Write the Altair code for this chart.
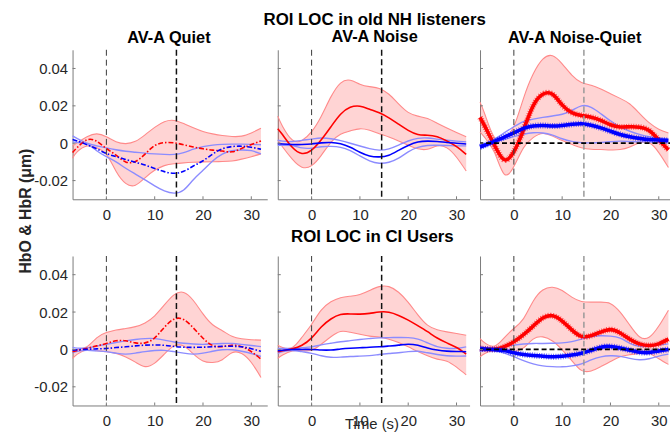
import altair as alt
import pandas as pd

# ---------------- data ----------------
T = [-7, -6, -4, -2, 0, 2, 4, 6, 8, 10, 12, 14, 16, 18, 20, 22, 24, 26, 28, 30, 32]

# old NH listeners, AV-A Quiet
NHQ_HBO = [-0.0050, -0.0022, 0.0018, 0.0010, -0.0028, -0.0064, -0.0100, -0.0098, -0.0058, -0.0013, 0.0003, 0.0002, -0.0008, -0.0020, -0.0030, -0.0037, -0.0042, -0.0046, -0.0028, -0.0007, 0.0012]
NHQ_HBO_HI = [-0.0015, 0.0003, 0.0035, 0.0050, 0.0035, 0.0008, -0.0002, 0.0010, 0.0045, 0.0085, 0.0115, 0.0122, 0.0105, 0.0083, 0.0063, 0.0050, 0.0041, 0.0036, 0.0038, 0.0055, 0.0080]
NHQ_HBO_LO = [-0.0080, -0.0045, -0.0015, -0.0025, -0.0060, -0.0150, -0.0215, -0.0225, -0.0185, -0.0145, -0.0120, -0.0110, -0.0105, -0.0102, -0.0100, -0.0099, -0.0098, -0.0095, -0.0085, -0.0072, -0.0057]
NHQ_HBR = [0.0020, 0.0012, -0.0008, -0.0030, -0.0055, -0.0072, -0.0087, -0.0102, -0.0117, -0.0135, -0.0152, -0.0161, -0.0150, -0.0122, -0.0094, -0.0058, -0.0030, -0.0018, -0.0016, -0.0022, -0.0032]
NHQ_HBR_HI = [0.0039, 0.0025, 0.0000, -0.0014, -0.0025, -0.0035, -0.0043, -0.0048, -0.0053, -0.0057, -0.0060, -0.0060, -0.0050, -0.0032, -0.0018, -0.0010, -0.0006, -0.0005, -0.0005, -0.0006, -0.0008]
NHQ_HBR_LO = [0.0007, 0.0004, -0.0005, -0.0040, -0.0072, -0.0100, -0.0134, -0.0165, -0.0196, -0.0228, -0.0255, -0.0267, -0.0250, -0.0195, -0.0145, -0.0095, -0.0058, -0.0040, -0.0036, -0.0040, -0.0057]

# old NH listeners, AV-A Noise
NHN_HBO = [0.0078, 0.0045, -0.0022, -0.0055, -0.0037, 0.0018, 0.0088, 0.0155, 0.0192, 0.0198, 0.0182, 0.0163, 0.0136, 0.0102, 0.0069, 0.0047, 0.0043, 0.0034, 0.0012, -0.0018, -0.0060]
NHN_HBO_HI = [0.0145, 0.0090, 0.0018, 0.0015, 0.0062, 0.0145, 0.0248, 0.0322, 0.0337, 0.0316, 0.0303, 0.0293, 0.0262, 0.0210, 0.0165, 0.0145, 0.0132, 0.0107, 0.0082, 0.0058, 0.0034]
NHN_HBO_LO = [0.0016, -0.0020, -0.0085, -0.0128, -0.0120, -0.0065, 0.0005, 0.0048, 0.0066, 0.0077, 0.0069, 0.0051, 0.0033, 0.0012, -0.0011, -0.0030, -0.0032, -0.0015, -0.0025, -0.0075, -0.0149]
NHN_HBR = [-0.0002, -0.0004, -0.0007, -0.0007, -0.0004, 0.0002, 0.0004, -0.0003, -0.0022, -0.0048, -0.0068, -0.0073, -0.0064, -0.0038, -0.0012, 0.0006, 0.0011, 0.0009, 0.0004, 0.0000, -0.0004]
NHN_HBR_HI = [0.0016, 0.0011, 0.0009, 0.0015, 0.0022, 0.0028, 0.0024, 0.0014, 0.0000, -0.0015, -0.0029, -0.0037, -0.0030, -0.0010, 0.0012, 0.0026, 0.0028, 0.0022, 0.0016, 0.0011, 0.0007]
NHN_HBR_LO = [-0.0011, -0.0011, -0.0013, -0.0025, -0.0026, -0.0019, -0.0017, -0.0022, -0.0040, -0.0068, -0.0094, -0.0107, -0.0102, -0.0080, -0.0046, -0.0022, -0.0012, -0.0011, -0.0012, -0.0014, -0.0014]

# old NH listeners, AV-A Noise-Quiet
NHD_HBO = [0.0138, 0.0090, -0.0012, -0.0088, -0.0045, 0.0072, 0.0200, 0.0262, 0.0262, 0.0205, 0.0164, 0.0149, 0.0139, 0.0122, 0.0099, 0.0087, 0.0088, 0.0086, 0.0068, 0.0018, -0.0035]
NHD_HBO_HI = [0.0220, 0.0155, 0.0030, 0.0025, 0.0090, 0.0240, 0.0370, 0.0450, 0.0468, 0.0425, 0.0365, 0.0325, 0.0310, 0.0290, 0.0265, 0.0240, 0.0210, 0.0160, 0.0110, 0.0075, 0.0055]
NHD_HBO_LO = [0.0060, 0.0030, -0.0050, -0.0165, -0.0125, -0.0025, 0.0030, 0.0052, 0.0038, 0.0014, -0.0006, -0.0024, -0.0032, -0.0034, -0.0036, -0.0034, -0.0020, 0.0002, 0.0002, -0.0050, -0.0130]
NHD_HBR = [-0.0020, -0.0011, 0.0010, 0.0033, 0.0055, 0.0079, 0.0092, 0.0095, 0.0092, 0.0095, 0.0101, 0.0104, 0.0096, 0.0082, 0.0064, 0.0047, 0.0035, 0.0026, 0.0020, 0.0017, 0.0015]
NHD_HBR_HI = [-0.0011, -0.0004, 0.0022, 0.0055, 0.0088, 0.0116, 0.0129, 0.0138, 0.0146, 0.0155, 0.0175, 0.0200, 0.0192, 0.0158, 0.0120, 0.0087, 0.0064, 0.0047, 0.0035, 0.0027, 0.0023]
NHD_HBR_LO = [-0.0020, -0.0012, 0.0007, 0.0020, 0.0035, 0.0048, 0.0056, 0.0055, 0.0043, 0.0024, 0.0010, 0.0003, 0.0002, 0.0004, 0.0008, 0.0011, 0.0009, 0.0007, 0.0007, 0.0004, 0.0002]

# CI users, AV-A Quiet
CIQ_HBO = [-0.0012, -0.0006, 0.0006, 0.0019, 0.0032, 0.0046, 0.0046, 0.0035, 0.0035, 0.0062, 0.0118, 0.0162, 0.0160, 0.0115, 0.0060, 0.0021, 0.0015, 0.0022, 0.0015, -0.0012, -0.0052]
CIQ_HBO_HI = [-0.0005, 0.0000, 0.0015, 0.0062, 0.0090, 0.0104, 0.0112, 0.0122, 0.0142, 0.0180, 0.0238, 0.0292, 0.0305, 0.0262, 0.0190, 0.0132, 0.0100, 0.0070, 0.0057, 0.0052, 0.0050]
CIQ_HBO_LO = [-0.0048, -0.0025, -0.0002, -0.0007, -0.0012, -0.0021, -0.0040, -0.0068, -0.0092, -0.0073, -0.0025, 0.0018, 0.0018, -0.0024, -0.0062, -0.0070, -0.0055, -0.0018, -0.0022, -0.0070, -0.0150]
CIQ_HBR = [-0.0004, -0.0002, 0.0001, 0.0003, 0.0005, 0.0010, 0.0014, 0.0019, 0.0023, 0.0024, 0.0022, 0.0016, 0.0012, 0.0011, 0.0012, 0.0014, 0.0017, 0.0017, 0.0014, 0.0004, -0.0010]
CIQ_HBR_HI = [0.0011, 0.0007, 0.0008, 0.0018, 0.0028, 0.0037, 0.0046, 0.0053, 0.0058, 0.0058, 0.0050, 0.0040, 0.0033, 0.0029, 0.0027, 0.0030, 0.0032, 0.0032, 0.0027, 0.0021, 0.0015]
CIQ_HBR_LO = [-0.0018, -0.0010, -0.0005, -0.0008, -0.0012, -0.0020, -0.0025, -0.0020, -0.0012, -0.0006, -0.0005, -0.0012, -0.0020, -0.0025, -0.0020, -0.0010, -0.0002, -0.0002, -0.0010, -0.0022, -0.0037]

# CI users, AV-A Noise
CIN_HBO = [-0.0012, -0.0007, 0.0003, 0.0022, 0.0062, 0.0120, 0.0163, 0.0187, 0.0190, 0.0189, 0.0193, 0.0200, 0.0199, 0.0182, 0.0157, 0.0127, 0.0095, 0.0061, 0.0035, 0.0010, -0.0025]
CIN_HBO_HI = [0.0023, 0.0010, 0.0010, 0.0065, 0.0135, 0.0210, 0.0255, 0.0277, 0.0285, 0.0294, 0.0315, 0.0336, 0.0336, 0.0306, 0.0252, 0.0185, 0.0130, 0.0105, 0.0094, 0.0085, 0.0076]
CIN_HBO_LO = [-0.0048, -0.0030, -0.0008, -0.0007, -0.0004, 0.0028, 0.0068, 0.0096, 0.0092, 0.0081, 0.0071, 0.0066, 0.0055, 0.0037, 0.0014, -0.0011, -0.0034, -0.0052, -0.0063, -0.0095, -0.0136]
CIN_HBR = [-0.0007, -0.0004, 0.0000, 0.0000, 0.0000, -0.0003, -0.0003, 0.0002, 0.0006, 0.0009, 0.0012, 0.0014, 0.0018, 0.0023, 0.0028, 0.0022, 0.0008, -0.0003, -0.0009, -0.0011, -0.0012]
CIN_HBR_HI = [0.0005, 0.0005, 0.0005, 0.0009, 0.0014, 0.0024, 0.0033, 0.0041, 0.0047, 0.0053, 0.0058, 0.0062, 0.0063, 0.0064, 0.0063, 0.0055, 0.0035, 0.0015, 0.0006, 0.0006, 0.0014]
CIN_HBR_LO = [-0.0021, -0.0012, -0.0006, -0.0012, -0.0021, -0.0034, -0.0042, -0.0041, -0.0038, -0.0036, -0.0033, -0.0027, -0.0022, -0.0018, -0.0012, -0.0010, -0.0018, -0.0027, -0.0034, -0.0036, -0.0035]

# CI users, AV-A Noise-Quiet
CID_HBO = [0.0005, 0.0002, 0.0001, 0.0015, 0.0041, 0.0079, 0.0125, 0.0168, 0.0180, 0.0152, 0.0105, 0.0070, 0.0074, 0.0093, 0.0106, 0.0088, 0.0055, 0.0030, 0.0021, 0.0030, 0.0055]
CID_HBO_HI = [0.0058, 0.0035, 0.0018, 0.0062, 0.0112, 0.0165, 0.0258, 0.0318, 0.0333, 0.0315, 0.0280, 0.0257, 0.0253, 0.0253, 0.0245, 0.0200, 0.0130, 0.0068, 0.0065, 0.0125, 0.0210]
CID_HBO_LO = [-0.0039, -0.0022, -0.0002, -0.0008, -0.0012, 0.0008, 0.0055, 0.0067, 0.0045, -0.0002, -0.0060, -0.0112, -0.0115, -0.0092, -0.0065, -0.0039, -0.0028, -0.0021, -0.0022, -0.0050, -0.0080]
CID_HBR = [0.0005, 0.0002, -0.0001, -0.0006, -0.0018, -0.0027, -0.0032, -0.0036, -0.0039, -0.0037, -0.0030, -0.0020, -0.0005, 0.0012, 0.0016, 0.0008, -0.0004, -0.0015, -0.0016, -0.0008, 0.0000]
CID_HBR_HI = [0.0014, 0.0009, 0.0007, 0.0015, 0.0023, 0.0029, 0.0032, 0.0032, 0.0033, 0.0035, 0.0042, 0.0055, 0.0067, 0.0073, 0.0071, 0.0060, 0.0033, 0.0017, 0.0016, 0.0023, 0.0030]
CID_HBR_LO = [-0.0012, -0.0007, -0.0008, -0.0020, -0.0039, -0.0060, -0.0077, -0.0088, -0.0092, -0.0093, -0.0088, -0.0077, -0.0056, -0.0040, -0.0034, -0.0037, -0.0048, -0.0055, -0.0050, -0.0036, -0.0025]

X_TICKS = [0, 10, 20, 30]
Y_TICKS = [-0.02, 0, 0.02, 0.04]
EVENT_LINES = [0, 14.5]
ZERO_LINE = [0]
ROW_TITLES = ["ROI LOC in old NH listeners", "ROI LOC in CI Users"]
COL_TITLES = ["AV-A Quiet", "AV-A Noise", "AV-A Noise-Quiet"]
X_TITLE = "Time (s)"
Y_TITLE = "HbO & HbR (\u03bcm)"

PANELS = [
    [(NHQ_HBO, NHQ_HBO_HI, NHQ_HBO_LO, NHQ_HBR, NHQ_HBR_HI, NHQ_HBR_LO),
     (NHN_HBO, NHN_HBO_HI, NHN_HBO_LO, NHN_HBR, NHN_HBR_HI, NHN_HBR_LO),
     (NHD_HBO, NHD_HBO_HI, NHD_HBO_LO, NHD_HBR, NHD_HBR_HI, NHD_HBR_LO)],
    [(CIQ_HBO, CIQ_HBO_HI, CIQ_HBO_LO, CIQ_HBR, CIQ_HBR_HI, CIQ_HBR_LO),
     (CIN_HBO, CIN_HBO_HI, CIN_HBO_LO, CIN_HBR, CIN_HBR_HI, CIN_HBR_LO),
     (CID_HBO, CID_HBO_HI, CID_HBO_LO, CID_HBR, CID_HBR_HI, CID_HBR_LO)],
]

# ---------------- styling ----------------
FONT = "Liberation Sans"
PX_PER_S = 4.88
X_DOMAINS = [[-7, 33.3], [-7, 32.7], [-7, 33.0]]
H = 151
YDOM = [-0.03, 0.05]
AX_COLOR = "#7a7a7a"
TXT = "#262626"
RED, BLUE = "#ff0000", "#0000ff"
Y_LABEL_EXPR = "datum.value == 0 ? '0' : (datum.value < 0 ? '-' : '') + format(abs(datum.value), '.2f')"


def panel(row, col):
    hbo, hbo_hi, hbo_lo, hbr, hbr_hi, hbr_lo = PANELS[row][col]
    df = pd.DataFrame({"t": T, "hbo": hbo, "hbo_hi": hbo_hi, "hbo_lo": hbo_lo,
                       "hbr": hbr, "hbr_hi": hbr_hi, "hbr_lo": hbr_lo})
    xdom = X_DOMAINS[col]
    width = (xdom[1] - xdom[0]) * PX_PER_S
    xs = alt.Scale(domain=xdom, nice=False, zero=False)
    ys = alt.Scale(domain=YDOM, nice=False, zero=False)

    xaxis_kw = dict(values=X_TICKS, ticks=False, tickSize=0, labelPadding=8, labelFontSize=15,
                    labelFont=FONT, labelColor=TXT, domainColor=AX_COLOR, domainWidth=1,
                    grid=False, labelFlush=False)
    if row == 1 and col == 1:
        xaxis = alt.Axis(title=X_TITLE, titleFont=FONT, titleFontSize=15, titleFontWeight="normal",
                         titleColor=TXT, titleX=94.7, titleY=23.4, titleBaseline="alphabetic",
                         titleAlign="center", **xaxis_kw)
    else:
        xaxis = alt.Axis(title=None, **xaxis_kw)

    yaxis_kw = dict(values=Y_TICKS, ticks=False, tickSize=0, labelPadding=5, labelFontSize=15,
                    labelFont=FONT, labelColor=TXT, domainColor=AX_COLOR, domainWidth=1,
                    grid=False, labels=(col == 0), labelExpr=Y_LABEL_EXPR)
    if row == 0 and col == 0:
        yaxis = alt.Axis(title=Y_TITLE, titleFont=FONT, titleFontSize=16, titleFontWeight="bold",
                         titleColor=TXT, titleAngle=270, titleX=-42.6, titleY=162.5,
                         titleBaseline="alphabetic", titleAlign="center", **yaxis_kw)
    else:
        yaxis = alt.Axis(title=None, **yaxis_kw)

    def X(f):
        return alt.X(f + ":Q", scale=xs, axis=xaxis)

    def Y(f):
        return alt.Y(f + ":Q", scale=ys, axis=yaxis)

    base = alt.Chart(df)
    interp = "natural"
    layers = []
    layers.append(base.mark_area(color=RED, opacity=0.17, interpolate=interp).encode(
        x=X("t"), y=Y("hbo_lo"), y2="hbo_hi:Q"))
    for f in ["hbo_hi", "hbo_lo"]:
        layers.append(base.mark_line(color="#ff8a8a", strokeWidth=1.1, interpolate=interp).encode(
            x=X("t"), y=Y(f)))
    for f in ["hbr_hi", "hbr_lo"]:
        layers.append(base.mark_line(color="#8c8cff", strokeWidth=1.4, interpolate=interp).encode(
            x=X("t"), y=Y(f)))

    for f, c in [("hbo", RED), ("hbr", BLUE)]:
        if col == 0:
            layers.append(base.mark_line(color=c, strokeWidth=1.6, strokeDash=[5, 2, 1.5, 2],
                                         interpolate=interp).encode(x=X("t"), y=Y(f)))
        elif col == 1:
            layers.append(base.mark_line(color=c, strokeWidth=1.6, interpolate=interp).encode(
                x=X("t"), y=Y(f)))
        else:
            layers.append(base.mark_line(color=c, strokeWidth=3.6, interpolate=interp).encode(
                x=X("t"), y=Y(f)))
            layers.append(base.mark_line(color=c, strokeWidth=6, strokeDash=[1, 1.4], opacity=0.6,
                                         interpolate=interp).encode(x=X("t"), y=Y(f)))

    # event lines
    layers.append(alt.Chart(pd.DataFrame({"t": [EVENT_LINES[0]]})).mark_rule(
        color="#3a3a3a", strokeWidth=1, strokeDash=[6, 4]).encode(x=X("t")))
    off_color = "#999999" if col == 2 else "#111111"
    layers.append(alt.Chart(pd.DataFrame({"t": [EVENT_LINES[1]]})).mark_rule(
        color=off_color, strokeWidth=1.5, strokeDash=[6, 3.5]).encode(x=X("t")))
    if col == 2:
        layers.append(alt.Chart(pd.DataFrame({"v": ZERO_LINE})).mark_rule(
            color="#000000", strokeWidth=1.8, strokeDash=[5, 3]).encode(y=Y("v")))

    # inward tick marks
    layers.append(alt.Chart(pd.DataFrame({"v": Y_TICKS})).mark_rule(color=AX_COLOR, strokeWidth=1).encode(
        y=Y("v"), x=alt.value(0), x2=alt.value(3)))
    layers.append(alt.Chart(pd.DataFrame({"v": X_TICKS})).mark_rule(color=AX_COLOR, strokeWidth=1).encode(
        x=X("v"), y=alt.value(H), y2=alt.value(H - 3)))

    props = dict(width=width, height=H)
    col_dx = [-1, 1, -2]
    if row == 0 and col == 1:
        props["title"] = alt.TitleParams(
            ROW_TITLES[0], subtitle=COL_TITLES[col], font=FONT, fontSize=17, fontWeight="bold",
            color="#000000", subtitleFont=FONT, subtitleFontSize=16.5, subtitleFontWeight="bold",
            subtitleColor="#000000", subtitlePadding=0.5, anchor="middle", frame="group",
            offset=2.7, dx=1)
    elif row == 0:
        props["title"] = alt.TitleParams(
            COL_TITLES[col], font=FONT, fontSize=16.5, fontWeight="bold", color="#000000",
            anchor="middle", frame="group", offset=2.7, dx=col_dx[col])
    elif col == 1:
        props["title"] = alt.TitleParams(
            ROW_TITLES[1], font=FONT, fontSize=17, fontWeight="bold", color="#000000",
            anchor="middle", frame="group", offset=9.7, dx=-1.3)
    return alt.layer(*layers).properties(**props)


panels = [panel(r, c) for r in range(2) for c in range(3)]
chart = alt.concat(*panels, columns=3, spacing={"row": 57.3, "column": 10.3}, bounds="flush").properties(
    padding={"left": 17.3, "top": 8.1, "right": -10.5, "bottom": 0},
    background="white",
).configure_view(stroke=None)

chart.save("out.html", embed_options={"renderer": "svg", "actions": False})
